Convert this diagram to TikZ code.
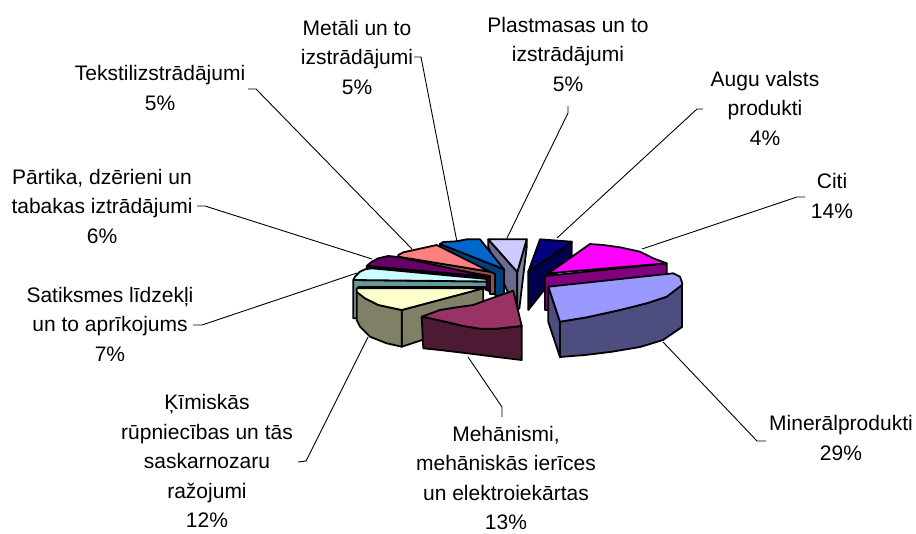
\documentclass[tikz,border=0pt]{standalone}
\usepackage{fontspec}
\setmainfont{Liberation Sans}
\definecolor{lavTop}{HTML}{CCCCFF}
\definecolor{lavSide}{HTML}{6B6B8F}
\definecolor{blueTop}{HTML}{0066CC}
\definecolor{blueSide}{HTML}{00407F}
\definecolor{salTop}{HTML}{FF8080}
\definecolor{salSide}{HTML}{994C4C}
\definecolor{purTop}{HTML}{660066}
\definecolor{purSide}{HTML}{330033}
\definecolor{cyaTop}{HTML}{CCFFFF}
\definecolor{cyaSide}{HTML}{669999}
\definecolor{navTop}{HTML}{000080}
\definecolor{navSide}{HTML}{00004D}
\definecolor{magTop}{HTML}{FF00FF}
\definecolor{magSide}{HTML}{800080}
\definecolor{minTop}{HTML}{9999FF}
\definecolor{minSide}{HTML}{4D4D80}
\definecolor{yelTop}{HTML}{FFFFCC}
\definecolor{yelSide}{HTML}{808066}
\definecolor{marTop}{HTML}{993366}
\definecolor{marSide}{HTML}{4D1A33}
\tikzset{
  pie/.style={draw=black, line width=1.8pt, line join=round},
  lead/.style={draw=black, line width=0.9pt},
  lbl/.style={align=center, inner sep=0pt, font=\fontsize{21}{29.5}\selectfont},
}
\begin{document}
\begin{tikzpicture}[x=1pt,y=-1pt]
\useasboundingbox (0,0) rectangle (916,533);

% ---- labels ----
\node[lbl] (lMet) at (357,57) {Metāli un to\\izstrādājumi\\5\%};
\node[lbl] (lTek) at (160,88) {Tekstilizstrādājumi\\5\%};
\node[lbl] (lPar) at (102,206) {Pārtika, dzērieni un\\tabakas iztrādājumi\\6\%};
\node[lbl] (lSat) at (110,324) {Satiksmes līdzekļi\\un to aprīkojums\\7\%};
\node[lbl] (lKim) at (207,461) {Ķīmiskās\\rūpniecības un tās\\saskarnozaru\\ražojumi\\12\%};
\node[lbl] (lMeh) at (506,478) {Mehānismi,\\mehāniskās ierīces\\un elektroiekārtas\\13\%};
\node[lbl] (lMin) at (841,438) {Minerālprodukti\\29\%};
\node[lbl] (lCit) at (832,196) {Citi\\14\%};
\node[lbl] (lAug) at (765,108) {Augu valsts\\produkti\\4\%};
\node[lbl] (lPla) at (568,54) {Plastmasas un to\\izstrādājumi\\5\%};

% ---- leader coordinates ----
\coordinate (aMet) at (414,57);  \coordinate (bMet) at (421,57);  \coordinate (cMet) at (457,242);
\coordinate (aTek) at (248,89);  \coordinate (bTek) at (256,89);  \coordinate (cTek) at (412,249);
\coordinate (aPar) at (197,206); \coordinate (bPar) at (205,206); \coordinate (cPar) at (372,259);
\coordinate (aSat) at (193,325); \coordinate (bSat) at (202,325); \coordinate (cSat) at (357,273);
\coordinate (aKim) at (298,462); \coordinate (bKim) at (306,461); \coordinate (cKim) at (368,337);
\coordinate (aMeh) at (502,417); \coordinate (bMeh) at (502,407); \coordinate (cMeh) at (468,357);
\coordinate (aMin) at (766,441); \coordinate (bMin) at (757,441); \coordinate (cMin) at (663,342);
\coordinate (aCit) at (805,197); \coordinate (bCit) at (797,197); \coordinate (cCit) at (642,249);
\coordinate (aAug) at (703,109); \coordinate (bAug) at (697,109); \coordinate (cAug) at (557,238);
\coordinate (aPla) at (568,106); \coordinate (bPla) at (568,113); \coordinate (cPla) at (507,238);

\foreach \n in {Met,Tek,Par,Sat,Kim,Meh,Min,Cit,Aug,Pla}
  \draw[lead] (a\n) -- (b\n) -- (c\n);

% ---- pie slices (back to front) ----
% Plastmasas
\filldraw[pie, fill=lavSide] (488.3,239.3) -- (517.3,272) -- (517.3,308.7) -- (515,308.7) -- (488.3,247) -- cycle;
\filldraw[pie, fill=lavSide!85!white] (517.3,272) -- (526.7,239.3) -- (526.7,247) -- (519.3,308.7) -- (517.3,308.7) -- cycle;
\filldraw[pie, fill=lavTop] (488.3,239.3) -- (526.7,239.3) -- (517.3,272) -- cycle;
% Metali
\filldraw[pie, fill=blueSide] (440,244) -- (504,269.3) -- (504,300) -- (440,262) -- cycle;
\filldraw[pie, fill=blueTop] (440,244) -- (443.3,242) -- (456.7,241.3) -- (466.7,239.3) -- (480,239.3) -- (504,269.3) -- cycle;
% Tekstil
\filldraw[pie, fill=salSide] (398.3,256.7) -- (490,271.7) -- (495,274) -- (495,294) -- (490,294) -- (490,276) -- (398.3,260) -- cycle;
\filldraw[pie, fill=salTop] (398.3,256.7) -- (398.3,255) -- (403.3,252.3) -- (421.7,248.3) -- (436.7,245) -- (490,271.7) -- cycle;
% Partika
\filldraw[pie, fill=purSide] (366.7,266) -- (490,277) -- (490,290) -- (486,290) -- (486,281) -- (366.7,270) -- cycle;
\filldraw[pie, fill=purTop] (366.7,266) -- (371.7,261.7) -- (378.3,258.3) -- (388.3,256) -- (398.3,257) -- (490,277) -- cycle;
% Satiksmes
\filldraw[pie, fill=cyaSide] (353.3,280) -- (486.7,281.5) -- (486.7,287) -- (358.3,287) -- (358.3,318.3) -- (353.3,318.3) -- cycle;
\filldraw[pie, fill=cyaTop] (353.3,280) -- (355,276.7) -- (360,271.7) -- (365,269.3) -- (371.7,268.3) -- (486.7,279) -- (486.7,281.5) -- cycle;
% Augu
\filldraw[pie, fill=navSide] (528.3,271.7) -- (571.7,241.7) -- (571.7,255) -- (528.3,310) -- cycle;
\filldraw[pie, fill=navTop] (528.3,271.7) -- (540,239.3) -- (571.7,241.7) -- cycle;
% Citi
\filldraw[pie, fill=magSide] (545,276) -- (666.7,263.3) -- (666.7,276) -- (548.3,288) -- (548.3,310) -- (545,310) -- cycle;
\filldraw[pie, fill=magTop] (548.3,273.3) -- (590,244) -- (603.3,245) -- (620,247.3) -- (640,251.7) -- (653.3,258.3) -- (666.7,263.3) -- cycle;
% Mineralprodukti
\filldraw[pie, fill=minSide] (548.3,286.7) -- (560,321.7) -- (560,357) -- (548.3,322) -- cycle;
\filldraw[pie, fill=minSide] (560,321.7) -- (586.7,317.3) -- (620,310) -- (646.7,303.3) -- (666.7,296.7) -- (682,285) -- (682,327) -- (663,340) -- (640,347) -- (610,352) -- (585,355) -- (560,357) -- cycle;
\filldraw[pie, fill=minTop] (548.3,286.7) -- (673.3,273.3) -- (680,276.7) -- (682.3,283.3) -- (682,285) -- (666.7,296.7) -- (646.7,303.3) -- (620,310) -- (586.7,317.3) -- (560,321.7) -- cycle;
% Kimiskas
\filldraw[pie, fill=yelSide] (401.7,310) -- (483.3,288.3) -- (483.3,320) -- (401.7,346.7) -- cycle;
\filldraw[pie, fill=yelSide] (356.7,290) -- (365,298.3) -- (378.3,305) -- (401.7,310) -- (401.7,346.7) -- (386.7,343.3) -- (370,336.7) -- (360,326.7) -- (356.7,320) -- cycle;
\filldraw[pie, fill=yelTop] (356.7,288.3) -- (483.3,288.3) -- (401.7,310) -- (378.3,305) -- (365,298.3) -- (356.7,292) -- cycle;
% Mehanismi
\filldraw[pie, fill=marSide] (421.7,316.7) -- (430,318.3) -- (446.7,322) -- (463.3,326) -- (480,328.7) -- (496.7,328.7) -- (521.7,326) -- (521.7,360) -- (496.7,357) -- (473.3,354) -- (440,350) -- (423.3,348.3) -- cycle;
\filldraw[pie, fill=marTop] (421.7,316.7) -- (440,310) -- (456.7,307.3) -- (473.3,305) -- (486.7,300) -- (513.3,290.7) -- (521.7,326) -- (496.7,328.7) -- (480,328.7) -- (463.3,326) -- (446.7,322) -- (430,318.3) -- cycle;
\end{tikzpicture}
\end{document}
